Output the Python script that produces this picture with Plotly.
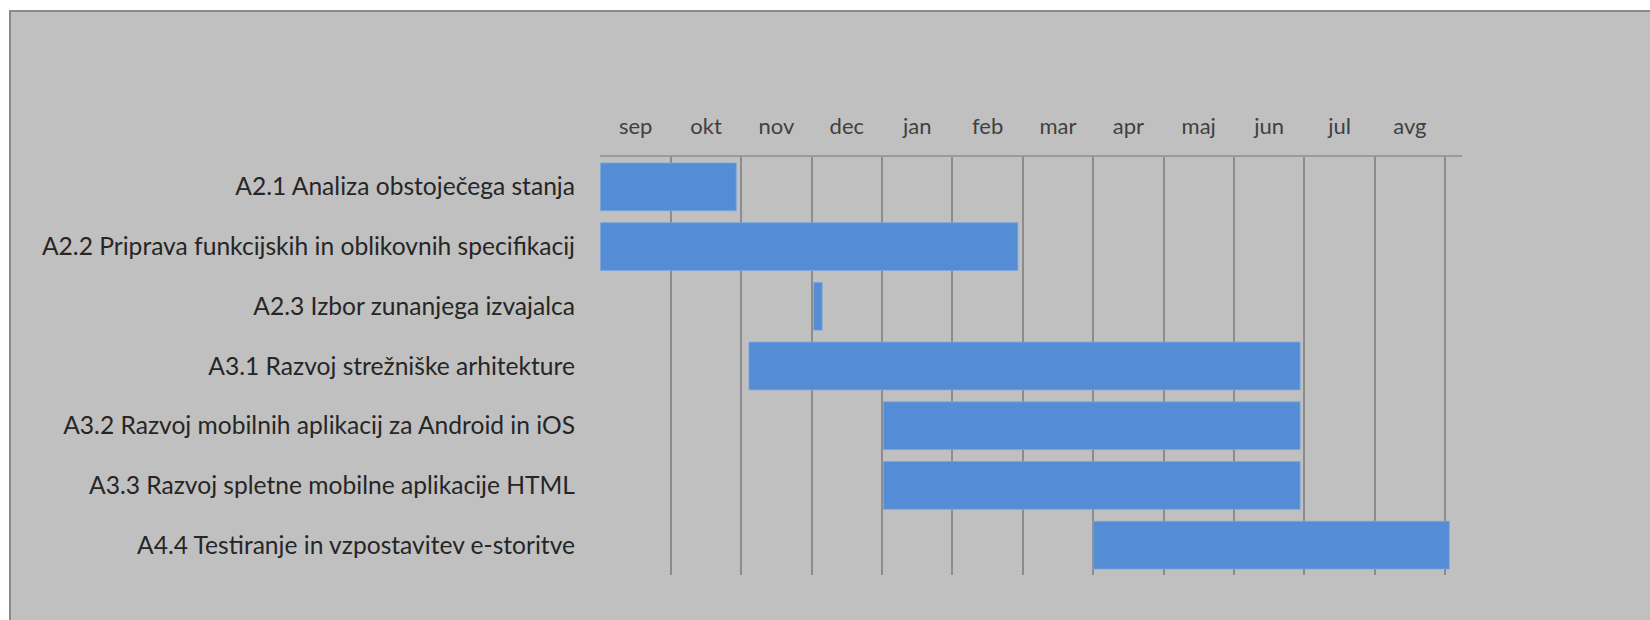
import plotly.graph_objects as go

tasks = [
    "A2.1 Analiza obstoječega stanja",
    "A2.2 Priprava funkcijskih in oblikovnih specifikacij",
    "A2.3 Izbor zunanjega izvajalca",
    "A3.1 Razvoj strežniške arhitekture",
    "A3.2 Razvoj mobilnih aplikacij za Android in iOS",
    "A3.3 Razvoj spletne mobilne aplikacije HTML",
    "A4.4 Testiranje in vzpostavitev e-storitve",
]
# months counted from the start of September
start = [0.0, 0.0, 3.03, 2.11, 4.02, 4.02, 7.0]
end = [1.93, 5.93, 3.15, 9.94, 9.94, 9.94, 12.06]
months = ["sep", "okt", "nov", "dec", "jan", "feb", "mar", "apr", "maj", "jun", "jul", "avg"]

durations = [e - s for s, e in zip(start, end)]

fig = go.Figure()
fig.add_trace(go.Bar(
    y=tasks,
    x=durations,
    base=start,
    orientation="h",
    width=0.8,
    marker=dict(color="#548dd6", line=dict(color="#7aa7e0", width=0.8)),
    hoverinfo="skip",
))

W, H = 1650, 620
L, R, T, B = 600, 188, 157, 45
pw, ph = W - L - R, H - T - B

def px_x(p):
    return (p - L) / pw

def px_y(p):
    return (H - B - p) / ph

fig.update_layout(
    width=W, height=H,
    margin=dict(l=L, r=R, t=T, b=B, pad=0),
    paper_bgcolor="white",
    plot_bgcolor="rgba(0,0,0,0)",
    showlegend=False,
    bargap=0.2,
    font=dict(family="Lato", color="#262626"),
    shapes=[dict(
        type="rect", xref="paper", yref="paper", layer="below",
        x0=px_x(10), x1=px_x(1720), y0=px_y(700), y1=px_y(11),
        fillcolor="#c0c0c0", line=dict(color="#8a8a8a", width=2),
    )],
    xaxis=dict(
        side="top",
        range=[-0.006, 12.24],
        tickmode="array",
        tickvals=[i + 0.5 for i in range(len(months))],
        ticktext=months,
        showgrid=False,
        zeroline=False,
        showline=True,
        linecolor="#9a9a9a",
        linewidth=1.5,
        ticks="",
        ticklabelstandoff=12,
        tickfont=dict(family="Lato", size=22, color="#404040"),
        minor=dict(tick0=0, dtick=1, showgrid=True, gridcolor="#8c8c8c", gridwidth=1.5, ticks=""),
        fixedrange=True,
    ),
    yaxis=dict(
        autorange="reversed",
        showgrid=False,
        zeroline=False,
        showline=False,
        ticks="",
        ticklabelstandoff=24,
        tickfont=dict(family="Lato", size=24.6, color="#262626"),
        fixedrange=True,
    ),
)

fig.write_html(
    "out.html",
    config={"displayModeBar": False},
    post_script="document.body.style.margin='0';document.body.style.padding='0';",
)
